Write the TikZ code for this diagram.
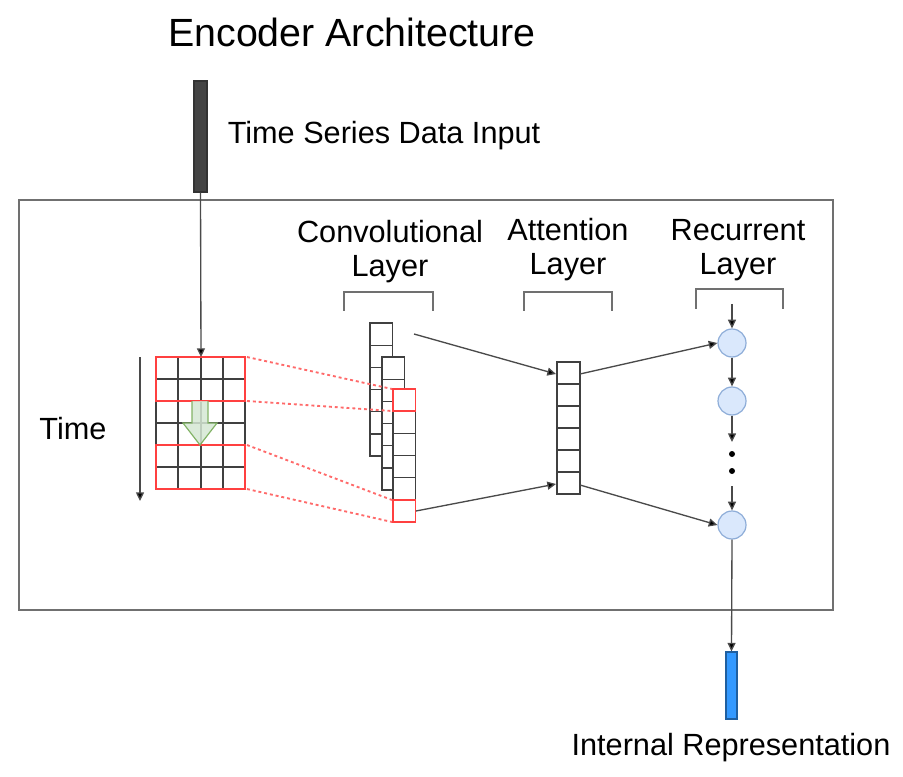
\documentclass[tikz,border=0pt]{standalone}
\usepackage{fontspec}
\setmainfont{Liberation Sans}
\usetikzlibrary{arrows.meta,fit}
\definecolor{linegray}{HTML}{4A4A4A}
\definecolor{boxgray}{HTML}{707070}
\definecolor{inbar}{HTML}{444444}
\definecolor{outbar}{HTML}{3399FF}
\definecolor{outbardraw}{HTML}{1F5FA0}
\definecolor{gfill}{HTML}{D5E8D4}
\definecolor{gdraw}{HTML}{82B366}
\definecolor{bfill}{HTML}{DAE8FC}
\definecolor{bdraw}{HTML}{8EADD8}
\definecolor{dotred}{HTML}{FF6A6A}
\begin{document}
\begin{tikzpicture}[x=0.75pt,y=-0.75pt,
  lbl/.style={font=\fontsize{23}{26}\selectfont, inner sep=0pt},
  conn/.style={draw=linegray, line width=1pt, -{Triangle[length=6.5pt,width=6pt,fill=black]}},
  cell/.style={draw=black!75, line width=1pt, fill=white},
  redcell/.style={draw=red!75, line width=1.1pt},
  bracket/.style={draw=boxgray, line width=1.3pt},
  rnn/.style={circle, draw=bdraw, fill=bfill, line width=0.9pt, minimum size=21pt, inner sep=0pt},
  reddot/.style={draw=dotred, line width=1.4pt, dash pattern=on 2.2pt off 2.2pt},
  tight/.style={inner sep=0pt}
]
\useasboundingbox (0,0) rectangle (903,777);

% title and labels
\node[font=\fontsize{29.5}{33}\selectfont, inner sep=0pt] (title) at (352,32) {Encoder Architecture};
\node[lbl] (tsin) at (384,136) {Time Series Data Input};
\node[lbl] (convA) at (390,232) {Convolutional};
\node[lbl] (convB) at (390,269) {Layer};
\node[lbl] (attA) at (568,230) {Attention};
\node[lbl] (attB) at (568,267) {Layer};
\node[lbl] (recA) at (738,230) {Recurrent};
\node[lbl] (recB) at (738,267) {Layer};
\node[lbl] (timelbl) at (73,429) {Time};
\node[lbl] (irep) at (731,748) {Internal Representation};

% main frame
\node[tight, fit={(19,200) (833,610)}, draw=boxgray, line width=1.4pt] (frame) {};

% input bar
\node[tight, fit={(194,81) (207,192)}, draw=black!80, fill=inbar, line width=0.8pt] (inbar) {};
% output bar
\node[tight, fit={(726,652) (737,719)}, draw=outbardraw, fill=outbar, line width=0.8pt] (outbar) {};

% brackets
\draw[bracket] (344,311) -- (344,292) -- (433,292) -- (433,311);
\draw[bracket] (524,311) -- (524,292) -- (612,292) -- (612,311);
\draw[bracket] (696,309) -- (696,289) -- (783,289) -- (783,309);

% input grid
\node[tight, fit={(156,357) (245,489)}] (grid) {};
\foreach \x in {156,178,201,223,245} \draw[black!75, line width=1pt] (\x,357) -- (\x,489);
\foreach \y in {357,379,401,423,445,467,489} \draw[black!75, line width=1pt] (156,\y) -- (245,\y);
\draw[redcell] (156,357) rectangle (245,401);
\draw[redcell] (156,445) rectangle (245,489);
\fill[gfill, fill opacity=0.85] (192,401) -- (208,401) -- (208,423) -- (217,423) -- (200,445) -- (183,423) -- (192,423) -- cycle;
\draw[gdraw, line width=0.9pt] (192,401) -- (192,423) -- (183,423) -- (200,445) -- (217,423) -- (208,423) -- (208,401);

% time arrow
\coordinate (ttop) at (140,357);
\coordinate (tbot) at (140,501);
\draw[conn] (ttop) -- (tbot);

% input -> grid
\coordinate (gridin) at (201,357);
\draw[conn] (inbar.south) -- (gridin);

% conv columns
\foreach \x/\y [count=\k] in {370/323, 382/357, 393/389} {
  \node[tight, fit={(\x,\y) (\x+22.5,\y+133)}, cell] (conv\k) {};
  \foreach \i in {1,...,5} \draw[black!75, line width=1pt] (\x,\y+\i*22.17) -- (\x+22.5,\y+\i*22.17);
}
\draw[redcell] (393,389) rectangle (415.5,411);
\draw[redcell] (393,500) rectangle (415.5,522);

% red dotted projections
\coordinate (g1) at (247,357); \coordinate (g2) at (247,401);
\coordinate (g3) at (247,445); \coordinate (g4) at (247,489);
\coordinate (k1) at (392,389); \coordinate (k2) at (392,411);
\coordinate (k3) at (392,500); \coordinate (k4) at (392,522);
\draw[reddot] (g1) -- (k1);
\draw[reddot] (g2) -- (k2);
\draw[reddot] (g3) -- (k3);
\draw[reddot] (g4) -- (k4);

% attention column
\node[tight, fit={(557,362) (580,494)}, cell] (att) {};
\foreach \i in {1,...,5} \draw[black!75, line width=1pt] (557,362+\i*22) -- (580,362+\i*22);

% conv -> attention
\coordinate (cup) at (414,334);
\coordinate (clo) at (416,511);
\coordinate (aupin) at (556,374);
\coordinate (aloin) at (556,484);
\draw[conn] (cup) -- (aupin);
\draw[conn] (clo) -- (aloin);

% recurrent
\node[rnn] (r1) at (732,343) {};
\node[rnn] (r2) at (732,401) {};
\node[rnn] (r3) at (732,525) {};
\node[circle, fill=black, minimum size=4.5pt, inner sep=0pt] (d1) at (732,454) {};
\node[circle, fill=black, minimum size=4.5pt, inner sep=0pt] (d2) at (732,471) {};

\coordinate (aupout) at (580,374);
\coordinate (aloout) at (580,485);
\draw[conn] (aupout) -- (r1.west);
\draw[conn] (aloout) -- (r3.west);

\coordinate (rtop) at (732,304);
\coordinate (rmid) at (732,442);
\coordinate (rmid2) at (732,486);
\draw[conn] (rtop) -- (r1.north);
\draw[conn] (r1.south) -- (r2.north);
\draw[conn] (r2.south) -- (rmid);
\draw[conn] (rmid2) -- (r3.north);
\draw[conn] (r3.south) -- (outbar.north);

\end{tikzpicture}
\end{document}
